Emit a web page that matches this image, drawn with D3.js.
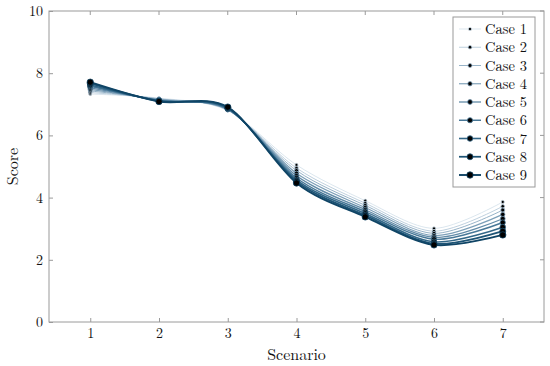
<!DOCTYPE html>
<html>
<head>
<meta charset="utf-8">
<script src="https://cdn.jsdelivr.net/npm/d3@7"></script>
<style>
  body { margin: 0; background: #fff; }
  svg text { font-family: "Latin Modern Roman", "Liberation Serif", "DejaVu Serif", serif; fill: #111; }
</style>
</head>
<body>
<svg id="chart" width="550" height="366"></svg>
<script>
var scenarios = [1, 2, 3, 4, 5, 6, 7];
var caseNames = ["Case 1", "Case 2", "Case 3", "Case 4", "Case 5", "Case 6", "Case 7", "Case 8", "Case 9"];

var case1 = [7.33, 7.20, 6.80, 5.05, 3.90, 3.01, 3.86];
var case2 = [7.38, 7.18, 6.81, 4.95, 3.82, 2.92, 3.72];
var case3 = [7.43, 7.17, 6.82, 4.87, 3.75, 2.85, 3.60];
var case4 = [7.48, 7.15, 6.83, 4.78, 3.68, 2.78, 3.46];
var case5 = [7.53, 7.14, 6.84, 4.70, 3.61, 2.72, 3.32];
var case6 = [7.58, 7.12, 6.85, 4.63, 3.55, 2.66, 3.20];
var case7 = [7.62, 7.11, 6.87, 4.57, 3.49, 2.58, 3.05];
var case8 = [7.67, 7.10, 6.89, 4.52, 3.43, 2.52, 2.92];
var case9 = [7.71, 7.09, 6.91, 4.47, 3.38, 2.48, 2.80];

var yTicks = [0, 2, 4, 6, 8, 10];
var series = [case1, case2, case3, case4, case5, case6, case7, case8, case9];

var colors = ["#cbdbe6", "#b2c8d8", "#97b3c8", "#7c9fb8", "#628ba8", "#487898", "#316687", "#1d5476", "#0f4465"];

var serif = "'Latin Modern Roman', 'Liberation Serif', 'DejaVu Serif', serif";

var svg = d3.select("#chart"),
    margin = {top: 11, right: 6, bottom: 44, left: 49},
    width = 550 - margin.left - margin.right,
    height = 366 - margin.top - margin.bottom;

var g = svg.append("g").attr("transform", "translate(" + margin.left + "," + margin.top + ")");

var x = d3.scaleLinear().domain([0.4, 7.6]).range([0, width]);
var y = d3.scaleLinear().domain([0, 10]).range([height, 0]);

// frame
g.append("rect")
  .attr("width", width).attr("height", height)
  .attr("fill", "none").attr("stroke", "#9a9a9a").attr("stroke-width", 1);

var xAxis = g.append("g")
  .attr("transform", "translate(0," + height + ")")
  .call(d3.axisBottom(x).tickValues(scenarios).tickSize(-4).tickPadding(6).tickFormat(d3.format("d")));
var yAxis = g.append("g")
  .call(d3.axisLeft(y).tickValues(yTicks).tickSize(-4).tickPadding(6));

[xAxis, yAxis].forEach(function(a) {
  a.attr("font-family", serif).attr("font-size", 14);
  a.select(".domain").remove();
  a.selectAll(".tick line").attr("stroke", "#9a9a9a");
  a.selectAll(".tick text").attr("fill", "#111");
});
// ticks on the opposite sides
g.selectAll(".xtop").data(scenarios).enter().append("line")
  .attr("x1", d => x(d)).attr("x2", d => x(d)).attr("y1", 0).attr("y2", 4)
  .attr("stroke", "#9a9a9a");
g.selectAll(".yright").data(yTicks).enter().append("line")
  .attr("x1", width).attr("x2", width - 4).attr("y1", d => y(d)).attr("y2", d => y(d))
  .attr("stroke", "#9a9a9a");

svg.append("text")
  .attr("x", margin.left + width / 2).attr("y", 360)
  .attr("text-anchor", "middle").attr("font-size", 16)
  .text("Scenario");
svg.append("text")
  .attr("transform", "translate(18," + (margin.top + height / 2) + ") rotate(-90)")
  .attr("text-anchor", "middle").attr("font-size", 16)
  .text("Score");

var line = d3.line()
  .x((d, i) => x(scenarios[i]))
  .y(d => y(d))
  .curve(d3.curveCardinal.tension(0.1));

series.forEach(function(vals, k) {
  var lw = 0.7 + k * 0.15;
  var r = 1.6 + k * 0.2;
  g.append("path")
    .datum(vals)
    .attr("d", line)
    .attr("fill", "none")
    .attr("stroke", colors[k])
    .attr("stroke-width", lw);
  g.selectAll(".pt" + k).data(vals).enter().append("circle")
    .attr("cx", (d, i) => x(scenarios[i]))
    .attr("cy", d => y(d))
    .attr("r", r)
    .attr("fill", "#000")
    .attr("stroke", colors[k])
    .attr("stroke-width", 0.8);
});

// legend
var lg = svg.append("g").attr("transform", "translate(453,17)");
lg.append("rect")
  .attr("width", 82).attr("height", 170)
  .attr("fill", "#fff").attr("stroke", "#9a9a9a");
caseNames.forEach(function(name, k) {
  var yy = 12 + k * 18.25;
  lg.append("line")
    .attr("x1", 6).attr("x2", 28).attr("y1", yy).attr("y2", yy)
    .attr("stroke", colors[k]).attr("stroke-width", 0.7 + k * 0.15);
  lg.append("circle")
    .attr("cx", 17).attr("cy", yy).attr("r", 1.6 + k * 0.2)
    .attr("fill", "#000").attr("stroke", colors[k]).attr("stroke-width", 0.8);
  lg.append("text")
    .attr("x", 32).attr("y", yy + 5)
    .attr("font-size", 14.5)
    .text(name);
});
</script>
</body>
</html>
